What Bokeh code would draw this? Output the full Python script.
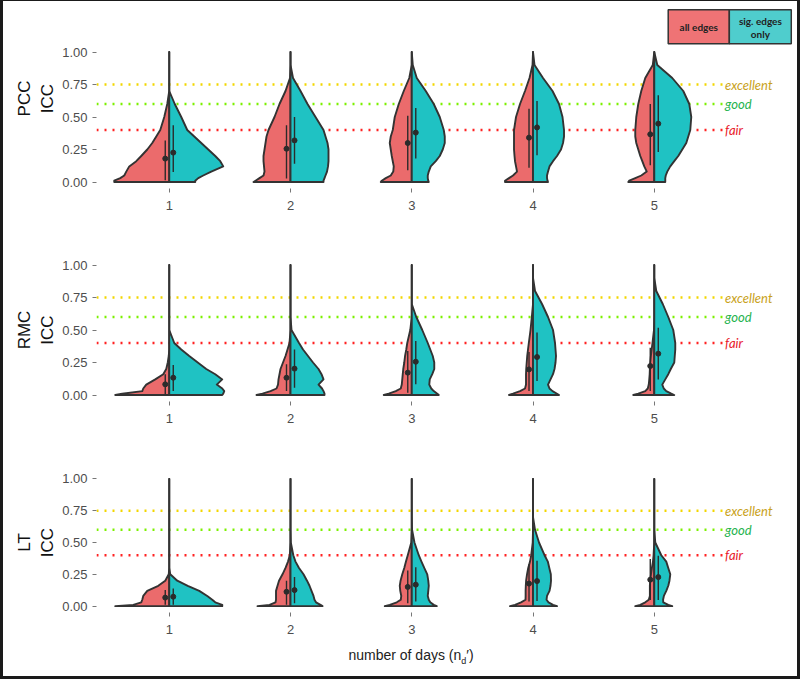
import numpy as np
from bokeh.plotting import figure
from bokeh.layouts import column, row
from bokeh.models import FixedTicker, Range1d, NumeralTickFormatter, Div
from bokeh.core.properties import value
from bokeh.embed import file_html
from bokeh.resources import INLINE

# ---------------- data ----------------
DAYS = [1, 2, 3, 4, 5]
Y_TICKS = [0.0, 0.25, 0.5, 0.75, 1.0]
METRICS = ["PCC", "RMC", "LT"]
GROUP_LABELS = ["all edges", "sig. edges only"]
THRESH_NAMES = ["excellent", "good", "fair"]
THRESH_VALUES = [0.75, 0.6, 0.4]
X_TITLE = "number of days (n<sub style='font-size:9px'>d</sub>\u2032)"

# ICC levels at which the violin densities were read
Y_LEVELS = [0, 0.01, 0.03, 0.05, 0.08, 0.12, 0.16, 0.2, 0.25, 0.3, 0.35, 0.4, 0.5, 0.6, 0.7, 0.8, 0.9, 1.0]

# half-violin densities (relative units), one row per day
PCC_ALL = [
    [55, 55, 49, 45, 43, 40, 33, 28, 22, 17, 13, 9, 5, 2, 0, 0, 0, 0],
    [37, 35, 31, 27, 26, 26.5, 27, 27, 26, 25, 24, 22, 16, 11, 5, 0.5, 0, 0],
    [31, 30, 26, 21, 18.5, 18, 19, 20, 21, 22, 21, 19, 17, 13, 8, 2.5, 0, 0],
    [28, 28, 24, 20, 16, 17, 18, 18.5, 19, 19, 19, 19, 17, 13, 8, 3.5, 0.5, 0],
    [26, 25, 19, 13, 7.5, 10, 12, 14, 16, 18, 19, 19, 18, 16, 13, 9, 1.5, 0],
]
PCC_SIG = [
    [26, 26, 29, 34, 42, 54, 51, 46, 39, 32, 25, 18, 12, 5.5, 0, 0, 0, 0],
    [33, 33, 34, 35, 36.5, 37.5, 38, 38, 38, 37, 35, 33, 25, 17, 10, 2.5, 0, 0],
    [17, 16.5, 16, 16, 17, 19, 24, 28, 31, 33, 33, 32, 28, 22, 14, 5, 1, 0],
    [15, 14.5, 14, 14, 15, 16.5, 20, 24, 28, 30, 31, 31, 29.5, 26, 19.5, 10, 1.5, 0],
    [11, 11, 11, 11.5, 13, 16, 20, 24, 28, 32, 34, 36, 37, 35, 29, 18, 3, 0],
]
RMC_ALL = [
    [54, 47, 27, 26, 23, 14, 6, 3, 1.5, 0.5, 0, 0, 0, 0, 0, 0, 0, 0],
    [34, 28, 20, 14, 12.5, 12, 11, 10, 7.5, 5, 3, 1, 0, 0, 0, 0, 0, 0],
    [28, 23, 16, 11, 10, 9.5, 9, 8.5, 7.5, 6.7, 5.5, 4.5, 1.5, 0, 0, 0, 0, 0],
    [24, 20, 13, 8, 7, 7, 7, 6.8, 6.3, 5.8, 5, 4.2, 2.5, 1.2, 0, 0, 0, 0],
    [21, 16, 9, 6.5, 5.5, 5, 4.6, 4.4, 4, 3.4, 2.6, 1.8, 0.3, 0, 0, 0, 0, 0],
]
RMC_SIG = [
    [53, 54, 55, 53, 47.5, 53, 46, 37, 28.5, 20, 12, 5, 0, 0, 0, 0, 0, 0],
    [34, 34, 33, 31.5, 28, 33, 31, 28, 22.5, 17.5, 12.5, 8.5, 1, 0, 0, 0, 0, 0],
    [27, 25.5, 22, 19.5, 17.5, 18, 20.5, 22.5, 22.5, 21, 18.5, 16, 10.5, 4.5, 0, 0, 0, 0],
    [26, 24, 19.5, 16.5, 15, 17.5, 20, 21.5, 22.5, 23, 22.5, 22, 20, 15, 9, 2, 0, 0],
    [20, 17, 12, 9.5, 8, 11, 14, 16.5, 20, 20.5, 21, 21, 19, 14, 8.5, 2, 0, 0],
]
LT_ALL = [
    [54, 36, 28, 27, 26, 22, 11, 4, 0.5, 0, 0, 0, 0, 0, 0, 0, 0, 0],
    [33, 21, 15, 14.5, 14.5, 14.5, 13, 11.5, 8, 5, 2.5, 0.7, 0, 0, 0, 0, 0, 0],
    [27, 22, 15, 11, 10.5, 11.5, 12, 11.2, 9.5, 7.5, 5.8, 4, 0.5, 0, 0, 0, 0, 0],
    [23, 18, 12, 7.5, 7.4, 7.4, 7.2, 6.9, 6, 4.8, 3, 1.8, 0.3, 0, 0, 0, 0, 0],
    [19, 14, 9, 5.5, 4.4, 4.4, 4.4, 4.1, 3.3, 2.4, 1.3, 0.7, 0, 0, 0, 0, 0, 0],
]
LT_SIG = [
    [53, 53, 46, 43, 38, 30, 18.5, 8, 1, 0, 0, 0, 0, 0, 0, 0, 0, 0],
    [32, 30, 25.5, 24, 23, 21, 19, 16.5, 13, 8.5, 5, 2.8, 0.3, 0, 0, 0, 0, 0],
    [25, 22, 18.5, 17, 16, 16.5, 17, 16.5, 15.5, 12.5, 9.7, 7, 2.7, 0.3, 0, 0, 0, 0],
    [24, 20, 15.5, 13.5, 14, 16.5, 17.5, 18, 17.8, 16.3, 14.8, 11.5, 6, 2, 0, 0, 0, 0],
    [18, 14, 9, 8.8, 9.6, 12, 14, 15.2, 16, 14, 12, 7, 1, 0, 0, 0, 0, 0],
]

# mean point and range line for each half violin
PCC_ALL_MEAN = [0.18, 0.256, 0.30, 0.341, 0.367]
PCC_ALL_LOW = [0.013, 0.026, 0.09, 0.11, 0.128]
PCC_ALL_HIGH = [0.32, 0.436, 0.51, 0.564, 0.60]
PCC_SIG_MEAN = [0.226, 0.32, 0.38, 0.42, 0.449]
PCC_SIG_LOW = [0.077, 0.141, 0.18, 0.205, 0.23]
PCC_SIG_HIGH = [0.436, 0.50, 0.57, 0.623, 0.667]
RMC_ALL_MEAN = [0.082, 0.133, 0.172, 0.197, 0.223]
RMC_ALL_LOW = [0.005, 0.03, 0.018, 0.03, 0.03]
RMC_ALL_HIGH = [0.159, 0.236, 0.338, 0.33, 0.364]
RMC_SIG_MEAN = [0.133, 0.203, 0.256, 0.292, 0.318]
RMC_SIG_LOW = [0.03, 0.056, 0.082, 0.108, 0.12]
RMC_SIG_HIGH = [0.23, 0.35, 0.415, 0.48, 0.518]
LT_ALL_MEAN = [0.067, 0.113, 0.151, 0.177, 0.208]
LT_ALL_LOW = [0.01, 0.01, 0.023, 0.036, 0.049]
LT_ALL_HIGH = [0.126, 0.2, 0.28, 0.33, 0.37]
LT_SIG_MEAN = [0.074, 0.126, 0.169, 0.197, 0.228]
LT_SIG_LOW = [0.01, 0.023, 0.036, 0.041, 0.049]
LT_SIG_HIGH = [0.138, 0.228, 0.305, 0.356, 0.395]

# ---------------- style ----------------
RED = "#EB6B6C"
CYAN = "#1FC2C3"
LEG_RED = "#EF7375"
LEG_CYAN = "#4FCDCD"
OUTLINE = "#333333"
FRAME_COLOR = "#1a1a1a"
THRESH_LINE_COLORS = ["#F2D600", "#7CF000", "#FF2222"]
THRESH_TEXT_COLORS = ["#C9A21C", "#25B34E", "#E8202A"]
DENSITY_SCALE = 1 / 121.25
STAT_OFFSET = 0.033
FONT = "Liberation Sans"

PANEL_DATA = [
    (PCC_ALL, PCC_SIG, (PCC_ALL_MEAN, PCC_ALL_LOW, PCC_ALL_HIGH), (PCC_SIG_MEAN, PCC_SIG_LOW, PCC_SIG_HIGH)),
    (RMC_ALL, RMC_SIG, (RMC_ALL_MEAN, RMC_ALL_LOW, RMC_ALL_HIGH), (RMC_SIG_MEAN, RMC_SIG_LOW, RMC_SIG_HIGH)),
    (LT_ALL, LT_SIG, (LT_ALL_MEAN, LT_ALL_LOW, LT_ALL_HIGH), (LT_SIG_MEAN, LT_SIG_LOW, LT_SIG_HIGH)),
]

# (height, min_border_top, min_border_bottom, y_top)
PANEL_GEOM = [
    (221, 7, 34, -0.05 + 180 / 130),
    (214, 36, 35, 1.05),
    (200, 36, 21, 1.05),
]
INNER_W = 794


def make_panel(i):
    metric = METRICS[i]
    all_w, sig_w, all_st, sig_st = PANEL_DATA[i]
    h, bt, bb, ytop = PANEL_GEOM[i]
    p = figure(width=INNER_W, height=h, x_range=Range1d(0.4, 6.14), y_range=Range1d(-0.05, ytop),
               output_backend="svg", toolbar_location=None,
               min_border_left=93, min_border_right=5, min_border_top=bt, min_border_bottom=bb)
    p.xgrid.visible = False
    p.ygrid.visible = False
    p.outline_line_color = None
    p.background_fill_color = "white"
    p.border_fill_color = "white"

    p.xaxis.ticker = FixedTicker(ticks=DAYS)
    p.yaxis.ticker = FixedTicker(ticks=Y_TICKS)
    p.yaxis.formatter = NumeralTickFormatter(format="0.00")
    for ax in p.xaxis + p.yaxis:
        ax.axis_line_color = None
        ax.major_tick_line_color = "#777777"
        ax.major_tick_out = 4
        ax.major_tick_in = 0
        ax.minor_tick_line_color = None
        ax.major_label_text_font = FONT
        ax.major_label_text_font_size = "13px"
        ax.major_label_text_color = "#4D4D4D"
    p.xaxis.major_label_standoff = 8
    p.yaxis.major_label_standoff = 5
    p.yaxis.axis_label = metric + "\nICC"
    p.yaxis.axis_label_text_font = FONT
    p.yaxis.axis_label_text_font_size = "17px"
    p.yaxis.axis_label_text_font_style = "normal"
    p.yaxis.axis_label_text_color = "#111111"
    p.yaxis.axis_label_standoff = 2
    p.yaxis.axis_label_text_line_height = 1.2

    # threshold lines + labels
    for name, v, lc, tc in zip(THRESH_NAMES, THRESH_VALUES, THRESH_LINE_COLORS, THRESH_TEXT_COLORS):
        p.segment(x0=[0.4], x1=[5.6], y0=[v], y1=[v], line_color=lc, line_width=2.5, line_dash="2 6")
        p.text(x=[5.6], y=[v], text=[name], x_offset=-2, text_color=tc,
               text_font=value("Lato"), text_font_style="italic", text_font_size="13px",
               text_align="left", text_baseline="middle")

    # split violins
    ys = list(Y_LEVELS) + [0.0]
    xs_all, xs_sig, ys_l = [], [], []
    for d, wa, ws in zip(DAYS, all_w, sig_w):
        xs_all.append([d - w * DENSITY_SCALE for w in wa] + [d])
        xs_sig.append([d + w * DENSITY_SCALE for w in ws] + [d])
        ys_l.append(ys)
    p.patches(xs_all, ys_l, fill_color=RED, line_color=OUTLINE, line_width=1.9, line_join="round")
    p.patches(xs_sig, ys_l, fill_color=CYAN, line_color=OUTLINE, line_width=1.9, line_join="round")

    # mean +/- range
    for st, off in ((all_st, -STAT_OFFSET), (sig_st, STAT_OFFSET)):
        mean, lo, hi = st
        xx = [d + off for d in DAYS]
        p.segment(x0=xx, x1=xx, y0=lo, y1=hi, line_color="#2b2b2b", line_width=1.4)
        p.scatter(xx, mean, size=5, fill_color="#2b2b2b", line_color="#2b2b2b")
    return p


panels = [make_panel(i) for i in range(3)]

# legend (drawn in the top panel, above the data)
p1 = panels[0]
p1.quad(left=[5.115], right=[5.619], bottom=[1.063], top=[1.325], fill_color=LEG_RED,
        line_color=OUTLINE, line_width=1.5)
p1.quad(left=[5.619], right=[6.13], bottom=[1.063], top=[1.325], fill_color=LEG_CYAN,
        line_color=OUTLINE, line_width=1.5)
p1.text(x=[5.367], y=[1.194], text=[GROUP_LABELS[0]], text_font=value("Lato"), text_font_style="bold",
        text_font_size="10px", text_color="#222222", text_align="center", text_baseline="middle")
sig_words = GROUP_LABELS[1].rsplit(" ", 1)
p1.text(x=[5.875, 5.875], y=[1.194, 1.194], text=sig_words, y_offset=[-6, 7],
        text_font=value("Lato"), text_font_style="bold",
        text_font_size="10px", text_color="#222222", text_align="center", text_baseline="middle")

# x axis title with subscript
title = Div(
    text=("<div style=\"width:816px;text-align:center;font-family:'Liberation Sans';"
          "font-size:14px;color:#222222;padding-top:9px;\">" + X_TITLE + "</div>"),
    width=INNER_W, height=40, margin=0,
)

# black picture frame around the whole chart
top_bar = Div(width=INNER_W, height=1, margin=0, styles={"background-color": FRAME_COLOR})
bottom_bar = Div(width=INNER_W, height=3, margin=0, styles={"background-color": FRAME_COLOR})
left_bar = Div(width=3, height=679, margin=0, styles={"background-color": FRAME_COLOR})
right_bar = Div(width=3, height=679, margin=0, styles={"background-color": FRAME_COLOR})

inner = column(top_bar, *panels, title, bottom_bar, spacing=0, margin=0)
layout = row(left_bar, inner, right_bar, spacing=0, margin=0)
open("out.html", "w").write(file_html(layout, INLINE))
